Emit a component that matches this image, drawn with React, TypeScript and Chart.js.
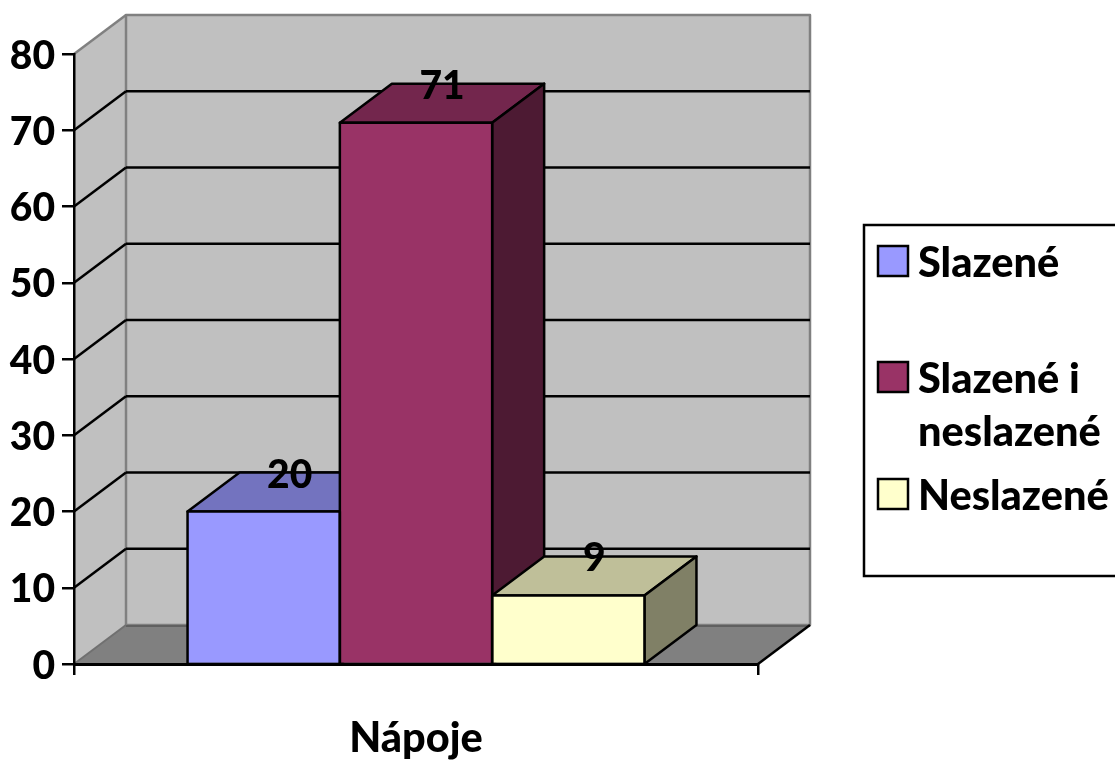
import React, { useEffect, useRef } from "react";
import { Chart, registerables } from "chart.js";

Chart.register(...registerables);

const categories = ["Nápoje"];
const seriesNames = ["Slazené", "Slazené i neslazené", "Neslazené"];
const seriesValues = [20, 71, 9];
const frontColors = ["#9999FF", "#993366", "#FFFFCC"];
const topColors = ["#7373BF", "#73264D", "#BFBF99"];
const sideColors = ["#5C5C99", "#4D1A33", "#808066"];

const FAMILY = "Lato, Carlito, sans-serif";
const WEIGHT = 900;
const NUMBER_SIZE = 39;
const TEXT_SIZE = 41.5;
const DEPTH_X = 52;
const DEPTH_Y = 39;
const LINE = 2.5;

function polygon(ctx: CanvasRenderingContext2D, pts: number[][], fill: string | null, stroke: string | null, width = LINE) {
  ctx.beginPath();
  pts.forEach(([x, y], i) => (i ? ctx.lineTo(x, y) : ctx.moveTo(x, y)));
  ctx.closePath();
  if (fill) {
    ctx.fillStyle = fill;
    ctx.fill();
  }
  if (stroke) {
    ctx.strokeStyle = stroke;
    ctx.lineWidth = width;
    ctx.lineJoin = "round";
    ctx.stroke();
  }
}

function segment(ctx: CanvasRenderingContext2D, x1: number, y1: number, x2: number, y2: number, color: string, width: number) {
  ctx.beginPath();
  ctx.moveTo(x1, y1);
  ctx.lineTo(x2, y2);
  ctx.strokeStyle = color;
  ctx.lineWidth = width;
  ctx.stroke();
}

// Side wall, back wall, floor and the gridlines that run across the walls.
const roomPlugin = {
  id: "room",
  beforeDraw(chart: any) {
    const { ctx, chartArea: a, scales } = chart;
    const [dx, dy] = [DEPTH_X, DEPTH_Y];
    ctx.save();
    polygon(ctx, [[a.left, a.top], [a.left + dx, a.top - dy], [a.left + dx, a.bottom - dy], [a.left, a.bottom]], "#C0C0C0", null);
    polygon(ctx, [[a.left + dx, a.top - dy], [a.right + dx, a.top - dy], [a.right + dx, a.bottom - dy], [a.left + dx, a.bottom - dy]], "#C0C0C0", "#808080", 2.5);
    polygon(ctx, [[a.left, a.bottom], [a.right, a.bottom], [a.right + dx, a.bottom - dy], [a.left + dx, a.bottom - dy]], "#808080", null);
    segment(ctx, a.left + dx, a.bottom - dy + 1, a.right + dx, a.bottom - dy + 1, "#606060", 2);
    segment(ctx, a.left, a.bottom, a.left + dx, a.bottom - dy, "#707070", 2);
    segment(ctx, a.left, a.top, a.left + dx, a.top - dy, "#808080", 2.5);
    segment(ctx, a.right, a.bottom, a.right + dx, a.bottom - dy, "#000000", LINE);
    for (const tick of scales.y.ticks) {
      if (tick.value <= scales.y.min || tick.value >= scales.y.max) continue;
      const y = scales.y.getPixelForValue(tick.value);
      segment(ctx, a.left, y, a.left + dx, y - dy, "#000000", LINE);
      segment(ctx, a.left + dx, y - dy, a.right + dx, y - dy, "#000000", LINE);
    }
    ctx.restore();
  },
};

// Top and right faces of each bar, a centred outline on the front faces, and the value labels.
const extrusionPlugin = {
  id: "extrusion",
  beforeDatasetsDraw(chart: any) {
    const { ctx, scales } = chart;
    const base = scales.y.getPixelForValue(0);
    ctx.save();
    chart.data.datasets.forEach((_: any, i: number) => {
      const bar = chart.getDatasetMeta(i).data[0];
      const left = bar.x - bar.width / 2;
      const right = bar.x + bar.width / 2;
      const top = bar.y;
      polygon(ctx, [[left, top], [left + DEPTH_X, top - DEPTH_Y], [right + DEPTH_X, top - DEPTH_Y], [right, top]], topColors[i], "#000000");
      polygon(ctx, [[right, top], [right + DEPTH_X, top - DEPTH_Y], [right + DEPTH_X, base - DEPTH_Y], [right, base]], sideColors[i], "#000000");
    });
    ctx.restore();
  },
  afterDatasetsDraw(chart: any) {
    const { ctx, scales } = chart;
    const base = scales.y.getPixelForValue(0);
    ctx.save();
    chart.data.datasets.forEach((_: any, i: number) => {
      const bar = chart.getDatasetMeta(i).data[0];
      const left = bar.x - bar.width / 2;
      const right = bar.x + bar.width / 2;
      polygon(ctx, [[left, bar.y], [right, bar.y], [right, base], [left, base]], null, "#000000");
    });
    ctx.font = `${WEIGHT} ${NUMBER_SIZE}px ${FAMILY}`;
    ctx.fillStyle = "#000000";
    ctx.textAlign = "center";
    ctx.textBaseline = "middle";
    chart.data.datasets.forEach((ds: any, i: number) => {
      const bar = chart.getDatasetMeta(i).data[0];
      ctx.fillText(String(ds.data[0]), bar.x + DEPTH_X / 2, bar.y - DEPTH_Y + 2.5);
    });
    ctx.restore();
  },
};

// Boxed legend with wrapped entries; its box runs off the right edge of the canvas.
const legendPlugin = {
  id: "boxedLegend",
  afterDraw(chart: any) {
    const { ctx } = chart;
    const rowTops = [246, 362, 479];
    ctx.save();
    ctx.fillStyle = "#FFFFFF";
    ctx.strokeStyle = "#000000";
    ctx.lineWidth = 2.5;
    ctx.fillRect(864, 225, 260, 351);
    ctx.strokeRect(864, 225, 260, 351);
    ctx.font = `${WEIGHT} ${TEXT_SIZE}px ${FAMILY}`;
    ctx.textBaseline = "alphabetic";
    ctx.textAlign = "left";
    chart.data.datasets.forEach((ds: any, i: number) => {
      const top = rowTops[i];
      ctx.fillStyle = frontColors[i];
      ctx.fillRect(878, top, 30, 30);
      ctx.strokeRect(878, top, 30, 30);
      const lines: string[] = [];
      let line = "";
      for (const word of ds.label.split(" ")) {
        const next = line ? line + " " + word : word;
        if (ctx.measureText(next).width > 195 && line) {
          lines.push(line);
          line = word;
        } else {
          line = next;
        }
      }
      lines.push(line);
      ctx.fillStyle = "#000000";
      lines.forEach((text, n) => ctx.fillText(text, 918, top + 30.5 + n * 53));
    });
    ctx.restore();
  },
};

export default function App() {
  const ref = useRef<HTMLCanvasElement>(null);

  useEffect(() => {
    const chart = new Chart(ref.current as HTMLCanvasElement, {
      type: "bar",
      data: {
        labels: categories,
        datasets: seriesNames.map((label, i) => ({
          label,
          data: [seriesValues[i]],
          backgroundColor: frontColors[i],
          borderWidth: 0,
          categoryPercentage: 0.668,
          barPercentage: 1,
        })),
      },
      options: {
        responsive: false,
        animation: false,
        layout: { padding: { left: 0, right: 357, top: 54, bottom: 0 } },
        plugins: { legend: { display: false }, title: { display: false }, tooltip: { enabled: false } },
        scales: {
          x: {
            afterFit(scale: any) {
              scale.height = 96;
            },
            grid: { drawOnChartArea: false, drawTicks: true, tickLength: 11, color: "#000000", lineWidth: LINE, offset: true },
            border: { color: "#000000", width: 3 },
            ticks: { color: "#000000", font: { family: FAMILY, size: TEXT_SIZE, weight: WEIGHT }, padding: 39, maxRotation: 0 },
          },
          y: {
            min: 0,
            max: 80,
            afterFit(scale: any) {
              scale.width = 74;
            },
            grid: { drawOnChartArea: false, drawTicks: true, tickLength: 12, color: "#000000", lineWidth: LINE },
            border: { color: "#000000", width: LINE },
            ticks: { stepSize: 10, color: "#000000", font: { family: FAMILY, size: NUMBER_SIZE, weight: WEIGHT }, padding: 7, labelOffset: 2 },
          },
        },
      } as any,
      plugins: [roomPlugin, extrusionPlugin, legendPlugin],
    });
    return () => chart.destroy();
  }, []);

  return (
    <div style={{ position: "fixed", left: 0, top: 0, width: 1115, height: 760, background: "#FFFFFF" }}>
      <canvas ref={ref} width={1115} height={760} style={{ display: "block" }} />
    </div>
  );
}
